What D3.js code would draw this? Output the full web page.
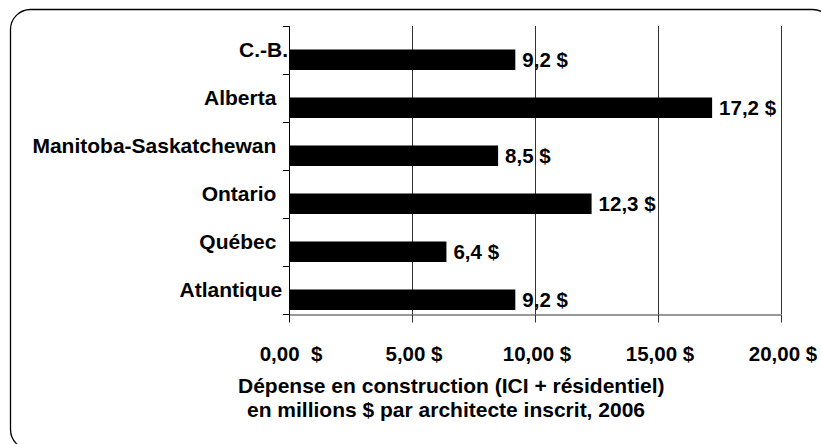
<!DOCTYPE html>
<html>
<head>
<meta charset="utf-8">
<script src="https://cdn.jsdelivr.net/npm/d3@7"></script>
<style>
  body { margin: 0; background: #fff; }
  svg text { font-family: "Liberation Sans", Arial, sans-serif; font-weight: bold; fill: #000; white-space: pre; }
</style>
</head>
<body>
<svg id="chart" width="821" height="444"></svg>
<script>
// regions, top to bottom (trailing spaces are part of the original labels)
var regions = ["C.-B.", "Alberta\u00a0\u00a0", "Manitoba-Saskatchewan\u00a0\u00a0", "Ontario\u00a0\u00a0", "Québec\u00a0\u00a0", "Atlantique\u00a0"];
// spending per registered architect, millions $
var spending = [9.2, 17.2, 8.5, 12.3, 6.4, 9.2];
var valueLabels = ["9,2 $", "17,2 $", "8,5 $", "12,3 $", "6,4 $", "9,2 $"];
var tickValues = [0, 5, 10, 15, 20];
var tickLabels = ["0,00  $", "5,00 $", "10,00 $", "15,00 $", "20,00 $"];
var titleLines = ["Dépense en construction (ICI + résidentiel)", "en millions $ par architecte inscrit, 2006"];

var svg = d3.select("#chart");

// rounded frame, bottom and right edge run past the picture
svg.append("rect")
  .attr("x", 10.5).attr("y", 9.5)
  .attr("width", 822).attr("height", 440)
  .attr("rx", 20).attr("ry", 20)
  .attr("fill", "none")
  .attr("stroke", "#000")
  .attr("stroke-width", 1.3);

var x = d3.scaleLinear().domain([0, 20]).range([289, 781]);
var y = d3.scaleBand().domain(d3.range(regions.length)).range([26, 314]);
var band = y.bandwidth();

// vertical gridlines
svg.append("g").selectAll("line")
  .data(tickValues.slice(1))
  .enter().append("line")
  .attr("x1", function(d) { return Math.round(x(d)) + 0.5; })
  .attr("x2", function(d) { return Math.round(x(d)) + 0.5; })
  .attr("y1", 26).attr("y2", 314)
  .attr("stroke", "#333");

// bottom axis with ticks pointing down
var xAxis = svg.append("g")
  .attr("transform", "translate(0,314.5)")
  .call(d3.axisBottom(x).tickValues(tickValues).tickSize(8).tickSizeOuter(0).tickFormat(""));
xAxis.select(".domain").attr("stroke", "#333");
xAxis.selectAll(".tick line").attr("stroke", "#333");

// left axis, ticks on band edges
var edges = d3.range(regions.length + 1).map(function(i) { return 26 + i * band; });
svg.append("g").selectAll("line")
  .data(edges)
  .enter().append("line")
  .attr("x1", 283).attr("x2", 289)
  .attr("y1", function(d) { return Math.round(d) + 0.5; })
  .attr("y2", function(d) { return Math.round(d) + 0.5; })
  .attr("stroke", "#000");
svg.append("line")
  .attr("x1", 289.5).attr("x2", 289.5)
  .attr("y1", 26).attr("y2", 322)
  .attr("stroke", "#000");

// bars sit in the lower part of each band
var barTop = 23.5, barH = 20.5;
svg.append("g").selectAll("rect")
  .data(spending)
  .enter().append("rect")
  .attr("x", x(0))
  .attr("y", function(d, i) { return y(i) + barTop; })
  .attr("width", function(d) { return x(d) - x(0); })
  .attr("height", barH)
  .attr("fill", "#000");

// value labels
svg.append("g").selectAll("text")
  .data(spending)
  .enter().append("text")
  .attr("x", function(d) { return x(d) + 7; })
  .attr("y", function(d, i) { return y(i) + barTop + barH / 2 + 7; })
  .attr("font-size", 20.5)
  .text(function(d, i) { return valueLabels[i]; });

// category labels
svg.append("g").selectAll("text")
  .data(regions)
  .enter().append("text")
  .attr("x", 288)
  .attr("y", function(d, i) { return y(i) + 31; })
  .attr("text-anchor", "end")
  .attr("font-size", 21)
  .text(function(d) { return d; });

// tick labels
svg.append("g").selectAll("text")
  .data(tickValues)
  .enter().append("text")
  .attr("x", function(d) { return x(d) + 2; })
  .attr("y", 361)
  .attr("text-anchor", "middle")
  .attr("font-size", 20.5)
  .text(function(d, i) { return tickLabels[i]; });

// axis title
svg.append("text").attr("x", 238).attr("y", 393).attr("font-size", 21).text(titleLines[0]);
svg.append("text").attr("x", 247).attr("y", 417).attr("font-size", 21).text(titleLines[1]);
</script>
</body>
</html>
